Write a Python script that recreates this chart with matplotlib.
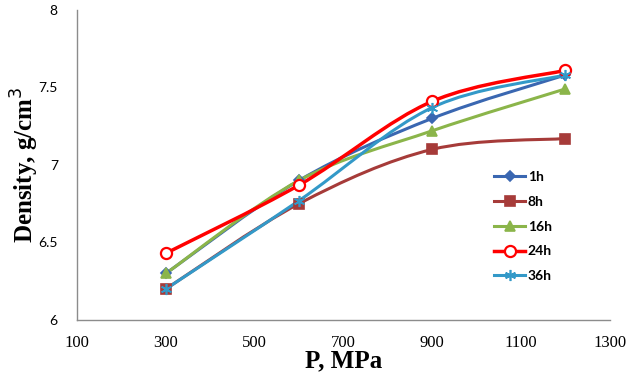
import matplotlib
matplotlib.use("Agg")
import matplotlib.pyplot as plt
from matplotlib.path import Path
from matplotlib.patches import PathPatch
from matplotlib.lines import Line2D
import numpy as np

pressure = [300, 600, 900, 1200]
d_1h = [6.30, 6.90, 7.30, 7.58]
d_8h = [6.20, 6.75, 7.10, 7.17]
d_16h = [6.30, 6.90, 7.22, 7.49]
d_24h = [6.43, 6.87, 7.41, 7.61]
d_36h = [6.20, 6.77, 7.37, 7.58]
labels = ["1h", "8h", "16h", "24h", "36h"]

series = [d_1h, d_8h, d_16h, d_24h, d_36h]
colors = ["#3A67B1", "#A63B39", "#8BB54A", "#FF0000", "#3399C8"]
markers = ["D", "s", "^", "o", (6, 2, 0)]
msizes = [5, 7, 7, 8, 8]


def smooth_path(x, y):
    # excel style smoothed line: cubic bezier segments through the points
    pts = np.column_stack([x, y]).astype(float)
    ext = np.vstack([pts[0], pts, pts[-1]])
    verts = [pts[0]]
    codes = [Path.MOVETO]
    for i in range(len(pts) - 1):
        p0, p1, p2, p3 = ext[i], ext[i + 1], ext[i + 2], ext[i + 3]
        c1 = p1 + (p2 - p0) / 6
        c2 = p2 - (p3 - p1) / 6
        verts += [c1, c2, p2]
        codes += [Path.CURVE4] * 3
    return Path(verts, codes)


fig = plt.figure(figsize=(6.28, 3.79), dpi=100)
ax = fig.add_axes([0.123, 0.156, 0.848, 0.818])

handles = []
for y, c, m, ms, lab in zip(series, colors, markers, msizes, labels):
    ax.add_patch(PathPatch(smooth_path(pressure, y), facecolor="none",
                           edgecolor=c, lw=2.2 if c != "#FF0000" else 2.5))
    if m == "o":
        ax.plot(pressure, y, linestyle="none", marker=m, ms=ms, mfc="white",
                mec=c, mew=1.6)
        h = Line2D([], [], color=c, lw=2.5, marker=m, ms=ms, mfc="white", mec=c, mew=1.6)
    else:
        ax.plot(pressure, y, linestyle="none", marker=m, ms=ms, color=c, mec=c, mew=1.2)
        h = Line2D([], [], color=c, lw=2.2, marker=m, ms=ms, mec=c, mew=1.2)
    handles.append(h)

ax.set_xlim(100, 1300)
ax.set_ylim(6, 8)
ax.set_xticks(range(100, 1301, 200))
ax.set_yticks([6, 6.5, 7, 7.5, 8])
ax.set_yticklabels(["6", "6.5", "7", "7.5", "8"])

for s in ["top", "right"]:
    ax.spines[s].set_visible(False)
for s in ["left", "bottom"]:
    ax.spines[s].set_color("#8C8C8C")
    ax.spines[s].set_linewidth(1.0)
ax.tick_params(length=0)
ax.tick_params(axis="x", pad=11)
ax.tick_params(axis="y", pad=14)
for t in ax.get_xticklabels():
    t.set_fontfamily("Liberation Serif")
    t.set_fontsize(12)
for t in ax.get_yticklabels():
    t.set_fontfamily("Lato")
    t.set_fontsize(10)

ax.set_xlabel("P, MPa", family="Liberation Serif", fontweight="bold", fontsize=18, labelpad=-1)
ax.set_ylabel("Density, g/cm$^3$", family="Liberation Serif", fontweight="bold", fontsize=18,
              labelpad=-2)

leg = ax.legend(handles, labels, loc="upper left", bbox_to_anchor=(0.76, 0.52),
                frameon=False, handlelength=2.2, handletextpad=0.2, labelspacing=0.92,
                prop={"family": "Lato", "weight": "bold", "size": 10})

fig.savefig("out.png", dpi=100)
